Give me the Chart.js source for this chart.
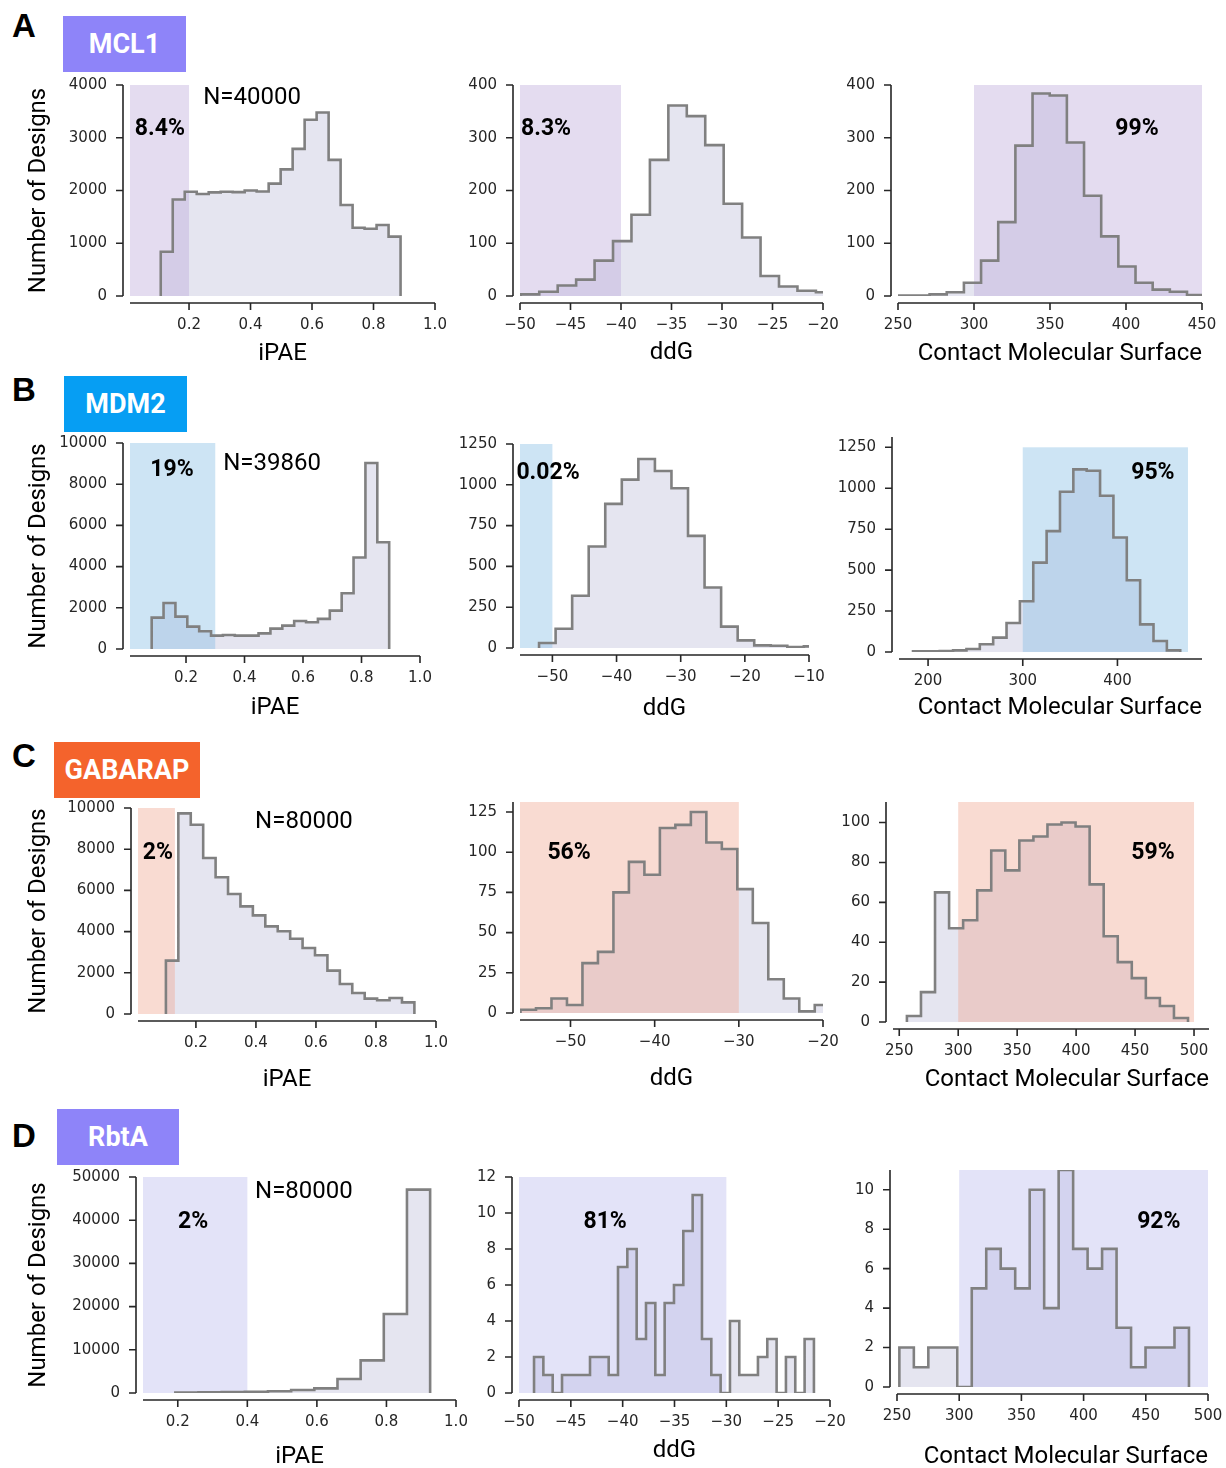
<!DOCTYPE html>
<html><head><meta charset="utf-8">
<script src="https://cdn.jsdelivr.net/npm/chart.js@4.4.1/dist/chart.umd.min.js"></script>
<style>
html,body{margin:0;padding:0;background:#fff;}
body{width:1226px;height:1468px;position:relative;overflow:hidden;}
canvas{position:absolute;}
.letter{position:absolute;font-family:'Liberation Sans',Arial,sans-serif;font-weight:bold;font-size:33px;line-height:33px;color:#000;}
.tag{position:absolute;color:#fff;font-family:Roboto,sans-serif;font-weight:bold;font-size:27px;display:flex;align-items:center;justify-content:center;}
</style></head><body>
<div class="letter" style="left:12px;top:9px">A</div>
<div class="letter" style="left:12px;top:373px">B</div>
<div class="letter" style="left:12px;top:739px">C</div>
<div class="letter" style="left:12px;top:1119px">D</div>
<div class="tag" style="left:63px;top:16px;width:123px;height:56px;background:#8e84f9">MCL1</div>
<div class="tag" style="left:64px;top:376px;width:123px;height:56px;background:#069ef3">MDM2</div>
<div class="tag" style="left:54px;top:742px;width:146px;height:56px;background:#f4632c">GABARAP</div>
<div class="tag" style="left:57px;top:1109px;width:122px;height:56px;background:#8e84f9">RbtA</div>
<script>
// ================= DATA =================
// histogram counts per bin; *_bins = [first bin edge, bin width]
const MCL1_iPAE_counts = [840,1830,1975,1935,1965,1975,1970,2000,1980,2130,2400,2790,3340,3480,2580,1725,1295,1275,1345,1125];
const MCL1_iPAE_bins = [0.108, 0.039];
const MCL1_ddG_counts = [3,8,20,31,67,104,154,258,361,341,286,175,111,38,18,10,7];
const MCL1_ddG_bins = [-49.92, 1.826];
const MCL1_CMS_counts = [1,1,3,7,25,67,140,285,384,380,291,190,113,56,25,12,8,2];
const MCL1_CMS_bins = [248.2, 11.29];

const MDM2_iPAE_counts = [1525,2235,1570,1085,860,650,680,650,650,760,990,1135,1360,1300,1460,1865,2705,4440,9030,5185];
const MDM2_iPAE_bins = [0.0826, 0.0406];
const MDM2_ddG_counts = [31,118,320,622,883,1032,1158,1085,979,687,371,131,47,16,14,6,10];
const MDM2_ddG_bins = [-52.08, 2.58];
const MDM2_CMS_counts = [4,4,6,10,18,47,88,177,310,546,738,979,1115,1107,954,699,438,169,67,10];
const MDM2_CMS_bins = [184.1, 14.11];

const GABARAP_iPAE_counts = [2590,9740,9190,7570,6635,5825,5225,4790,4255,4015,3655,3205,2850,2105,1455,1020,745,665,775,565];
const GABARAP_iPAE_bins = [0.1, 0.0414];
const GABARAP_ddG_counts = [2,3,9,5,31,38,75,94,86,115,117,125,106,102,77,56,21,9,1,5];
const GABARAP_ddG_bins = [-55.94, 1.84];
const GABARAP_CMS_counts = [3,15,65,47,51,66,86,76,91,93,99,100,98,69,43,30,22,12,8,2];
const GABARAP_CMS_bins = [256.5, 11.92];

const RbtA_iPAE_counts = [80,150,230,300,390,700,1080,3240,7560,18290,47070];
const RbtA_iPAE_bins = [0.193, 0.0666];
const RbtA_ddG_counts = [2,1,0,1,1,1,2,2,1,7,8,3,5,1,5,6,9,11,3,1,0,4,1,1,2,3,0,2,0,3];
const RbtA_ddG_bins = [-48.55, 0.9];
const RbtA_CMS_counts = [2,1,2,2,0,5,7,6,5,10,4,11,7,6,7,3,1,2,2,3];
const RbtA_CMS_bins = [251.9, 11.64];

// highlighted (passing) ranges: [from, to] per metric (iPAE, ddG, CMS)
const MCL1_bands = [[0.008, 0.2], [-50, -40], [300, 450]];
const MDM2_bands = [[0.0085, 0.3], [-55.05, -50], [300, 474.5]];
const GABARAP_bands = [[0.007, 0.13], [-56, -30], [300, 500]];
const RbtA_bands = [[0.1, 0.4], [-50, -30], [300, 500]];

// annotation labels
const MCL1_pct = ['8.4%', '8.3%', '99%'];
const MDM2_pct = ['19%', '0.02%', '95%'];
const GABARAP_pct = ['2%', '56%', '59%'];
const RbtA_pct = ['2%', '81%', '92%'];
const N_labels = ['N=40000', 'N=39860', 'N=80000', 'N=80000'];

// tick values
const iPAE_ticks = [0.2, 0.4, 0.6, 0.8, 1.0];
const ddG_ticks_5 = [-50, -45, -40, -35, -30, -25, -20];
const ddG_ticks_B = [-50, -40, -30, -20, -10];
const ddG_ticks_C = [-50, -40, -30, -20];
const CMS_ticks_A = [250, 300, 350, 400, 450];
const CMS_ticks_B = [200, 300, 400];
const CMS_ticks_CD = [250, 300, 350, 400, 450, 500];
const yt_4000 = [0, 1000, 2000, 3000, 4000];
const yt_400 = [0, 100, 200, 300, 400];
const yt_10000 = [0, 2000, 4000, 6000, 8000, 10000];
const yt_1250 = [0, 250, 500, 750, 1000, 1250];
const yt_125 = [0, 25, 50, 75, 100, 125];
const yt_100 = [0, 20, 40, 60, 80, 100];
const yt_50000 = [0, 10000, 20000, 30000, 40000, 50000];
const yt_12 = [0, 2, 4, 6, 8, 10, 12];
const yt_10 = [0, 2, 4, 6, 8, 10];

// ================= LAYOUT / STYLE =================
const BAND_MCL1 = 'rgba(187,167,217,0.4)';
const BAND_MDM2 = 'rgba(130,187,227,0.4)';
const BAND_GAB = 'rgba(240,165,142,0.4)';
const BAND_RBTA = 'rgba(185,185,238,0.4)';
const HIST_FILL = 'rgba(150,150,195,0.25)';
const HIST_LINE = '#808080';
const AX = '#262626';

const panels = [
 {c:MCL1_iPAE_counts,b:MCL1_iPAE_bins,r:[130,85,435,296],cl:0,xr:[0.008,1.0],ymax:4000,xt:iPAE_ticks,xd:1,yt:yt_4000,xT:'iPAE',yT:true,band:MCL1_bands[0],bTop:4000,bc:BAND_MCL1,tx:[[MCL1_pct[0],0.098,0.791,1],[N_labels[0],0.40,0.938,0]],ty:354},
 {c:MCL1_ddG_counts,b:MCL1_ddG_bins,r:[520,85,823,296],cl:452,xr:[-50,-20],ymax:400,xt:ddG_ticks_5,xd:0,yt:yt_400,xT:'ddG',band:MCL1_bands[1],bTop:400,bc:BAND_MCL1,tx:[[MCL1_pct[1],0.086,0.791,1]],ty:353},
 {c:MCL1_CMS_counts,b:MCL1_CMS_bins,r:[898,85,1202,296],cl:832,xr:[250,450],ymax:400,xt:CMS_ticks_A,xd:0,yt:yt_400,xT:'Contact Molecular Surface',al:'end',band:MCL1_bands[2],bTop:400,bc:BAND_MCL1,tx:[[MCL1_pct[2],0.786,0.791,1]],ty:354},

 {c:MDM2_iPAE_counts,b:MDM2_iPAE_bins,r:[130,443,420,649],cl:0,xr:[0.0085,1.0],ymax:10000,xt:iPAE_ticks,xd:1,yt:yt_10000,xT:'iPAE',yT:true,band:MDM2_bands[0],bTop:10000,bc:BAND_MDM2,tx:[[MDM2_pct[0],0.145,0.869,1],[N_labels[1],0.49,0.898,0]],ty:708},
 {c:MDM2_ddG_counts,b:MDM2_ddG_bins,r:[520,444,809,648],cl:452,xr:[-55.05,-10],ymax:1250,xt:ddG_ticks_B,xd:0,yt:yt_1250,xT:'ddG',band:MDM2_bands[1],bTop:1250,bc:BAND_MDM2,tx:[[MDM2_pct[1],0.097,0.858,1]],ty:709},
 {c:MDM2_CMS_counts,b:MDM2_CMS_bins,r:[899,437,1202,652],cl:832,xr:[169.3,489.3],ymax:1313,xt:CMS_ticks_B,xd:0,yt:yt_1250,xT:'Contact Molecular Surface',al:'end',band:MDM2_bands[2],bTop:1250,bc:BAND_MDM2,tx:[[MDM2_pct[2],0.838,0.833,1]],ty:708},

 {c:GABARAP_iPAE_counts,b:GABARAP_iPAE_bins,r:[138,808,436,1014],cl:0,xr:[0.007,1.0],ymax:10000,xt:iPAE_ticks,xd:1,yt:yt_10000,xT:'iPAE',yT:true,band:GABARAP_bands[0],bTop:10000,bc:BAND_GAB,tx:[[GABARAP_pct[0],0.067,0.782,1],[N_labels[2],0.557,0.932,0]],ty:1080},
 {c:GABARAP_ddG_counts,b:GABARAP_ddG_bins,r:[520,802,823,1013],cl:452,xr:[-56,-20],ymax:131.2,xt:ddG_ticks_C,xd:0,yt:yt_125,xT:'ddG',band:GABARAP_bands[1],bTop:131.2,bc:BAND_GAB,tx:[[GABARAP_pct[1],0.162,0.758,1]],ty:1079},
 {c:GABARAP_CMS_counts,b:GABARAP_CMS_bins,r:[893,802,1209,1022],cl:832,xr:[244.7,512.7],ymax:110.3,xt:CMS_ticks_CD,xd:0,yt:yt_100,xT:'Contact Molecular Surface',al:'end',band:GABARAP_bands[2],bTop:110.3,bc:BAND_GAB,tx:[[GABARAP_pct[2],0.823,0.768,1]],ty:1080},

 {c:RbtA_iPAE_counts,b:RbtA_iPAE_bins,r:[143,1177,456,1393],cl:0,xr:[0.1,1.0],ymax:50000,xt:iPAE_ticks,xd:1,yt:yt_50000,xT:'iPAE',yT:true,band:RbtA_bands[0],bTop:50000,bc:BAND_RBTA,tx:[[RbtA_pct[0],0.16,0.792,1],[N_labels[3],0.514,0.931,0]],ty:1457},
 {c:RbtA_ddG_counts,b:RbtA_ddG_bins,r:[519,1177,830,1393],cl:452,xr:[-50,-20],ymax:12,xt:ddG_ticks_5,xd:0,yt:yt_12,xT:'ddG',band:RbtA_bands[1],bTop:12,bc:BAND_RBTA,tx:[[RbtA_pct[1],0.277,0.792,1]],ty:1451},
 {c:RbtA_CMS_counts,b:RbtA_CMS_bins,r:[897,1170,1208,1387],cl:832,xr:[250,500],ymax:11,xt:CMS_ticks_CD,xd:0,yt:yt_10,xT:'Contact Molecular Surface',al:'end',band:RbtA_bands[2],bTop:11,bc:BAND_RBTA,tx:[[RbtA_pct[2],0.842,0.760,1]],ty:1457}
];

const fmt = (v, d) => (v < 0 ? '\u2212' : '') + Math.abs(v).toFixed(d);
const TICK_FONT = {family: "'DejaVu Sans', sans-serif", size: 15};
const TITLE_FONT = {family: "Roboto, sans-serif", size: 24};

function histPoints(counts, bins) {
  const e0 = bins[0], w = bins[1], n = counts.length;
  const pts = [{x: e0, y: 0}];
  counts.forEach((c, i) => pts.push({x: e0 + i * w, y: c}));
  pts.push({x: e0 + n * w, y: counts[n - 1]});
  pts.push({x: e0 + n * w, y: 0});
  return pts;
}

function makePanel(p) {
  const [L, T, R, B] = p.r;
  const PT = 45, PR = 50;
  const cl = p.cl, ct = T - PT;
  const cw = R - cl + PR;
  const xh = p.ty - B + 14.4;
  const ch = Math.ceil(B - ct + xh + 4);
  const pb = ch - (B - ct) - xh;
  const cv = document.createElement('canvas');
  cv.width = cw; cv.height = ch;
  cv.style.left = cl + 'px'; cv.style.top = ct + 'px';
  cv.style.width = cw + 'px'; cv.style.height = ch + 'px';
  document.body.appendChild(cv);

  const bandPlugin = {
    id: 'band',
    beforeDatasetDraw(chart) {
      const {ctx, chartArea: a, scales: {x, y}} = chart;
      const x0 = Math.max(a.left, x.getPixelForValue(p.band[0]));
      const x1 = Math.min(a.right, x.getPixelForValue(p.band[1]));
      const yt = y.getPixelForValue(p.bTop), yb = y.getPixelForValue(0);
      ctx.save(); ctx.fillStyle = p.bc; ctx.fillRect(x0, yt, x1 - x0, yb - yt); ctx.restore();
    }
  };
  const spinePlugin = {
    id: 'spines',
    afterDraw(chart) {
      const {ctx, chartArea: a, scales: {x, y}} = chart;
      const off = 7, tl = 7;
      const sx = a.left - off, sy = a.bottom + off;
      ctx.save(); ctx.strokeStyle = AX; ctx.lineWidth = 1.6; ctx.lineCap = 'butt';
      ctx.beginPath();
      ctx.moveTo(sx, a.top); ctx.lineTo(sx, a.bottom);
      ctx.moveTo(a.left, sy); ctx.lineTo(a.right, sy);
      y.ticks.forEach(t => { const py = y.getPixelForValue(t.value); ctx.moveTo(sx - tl, py); ctx.lineTo(sx, py); });
      x.ticks.forEach(t => { const px = x.getPixelForValue(t.value); ctx.moveTo(px, sy); ctx.lineTo(px, sy + tl); });
      ctx.stroke(); ctx.restore();
    }
  };
  const textPlugin = {
    id: 'texts',
    afterDatasetsDraw(chart) {
      const {ctx, chartArea: a} = chart;
      ctx.save(); ctx.fillStyle = '#000'; ctx.textAlign = 'center'; ctx.textBaseline = 'middle';
      p.tx.forEach(([s, fx, fy, bold]) => {
        ctx.font = bold ? 'bold 23px Roboto' : '24px Roboto';
        ctx.fillText(s, a.left + fx * (a.right - a.left), a.bottom - fy * (a.bottom - a.top));
      });
      ctx.restore();
    }
  };

  new Chart(cv, {
    type: 'line',
    data: {datasets: [{
      data: histPoints(p.c, p.b), stepped: true,
      borderColor: HIST_LINE, borderWidth: 2.6, borderJoinStyle: 'miter',
      backgroundColor: HIST_FILL, fill: 'origin',
      pointRadius: 0, pointHoverRadius: 0, tension: 0
    }]},
    options: {
      responsive: false, animation: false, devicePixelRatio: 1, events: [],
      layout: {autoPadding: false, padding: {left: 0, top: PT, right: PR, bottom: pb}},
      plugins: {legend: {display: false}, tooltip: {enabled: false}},
      scales: {
        x: {
          type: 'linear', bounds: 'data', min: p.xr[0], max: p.xr[1],
          grid: {display: false, drawTicks: false}, border: {display: false},
          afterBuildTicks: s => { s.ticks = p.xt.map(v => ({value: v})); },
          afterFit: s => { s.height = xh; },
          ticks: {padding: 20, font: TICK_FONT, color: AX, autoSkip: false, maxRotation: 0, minRotation: 0,
                  callback: v => fmt(v, p.xd)},
          title: {display: true, text: p.xT, font: TITLE_FONT, color: '#000', padding: 0, align: p.al || 'center'}
        },
        y: {
          type: 'linear', bounds: 'data', min: 0, max: p.ymax,
          grid: {display: false, drawTicks: false}, border: {display: false},
          afterBuildTicks: s => { s.ticks = p.yt.map(v => ({value: v})); },
          afterFit: s => { s.width = L - cl; },
          ticks: {padding: 23, font: TICK_FONT, color: AX, autoSkip: false, callback: v => fmt(v, 0)},
          title: {display: !!p.yT, text: 'Number of Designs', font: TITLE_FONT, color: '#000', padding: {top: 24.6, bottom: 0}}
        }
      }
    },
    plugins: [bandPlugin, spinePlugin, textPlugin]
  });
}

panels.forEach(makePanel);
</script>
</body></html>
